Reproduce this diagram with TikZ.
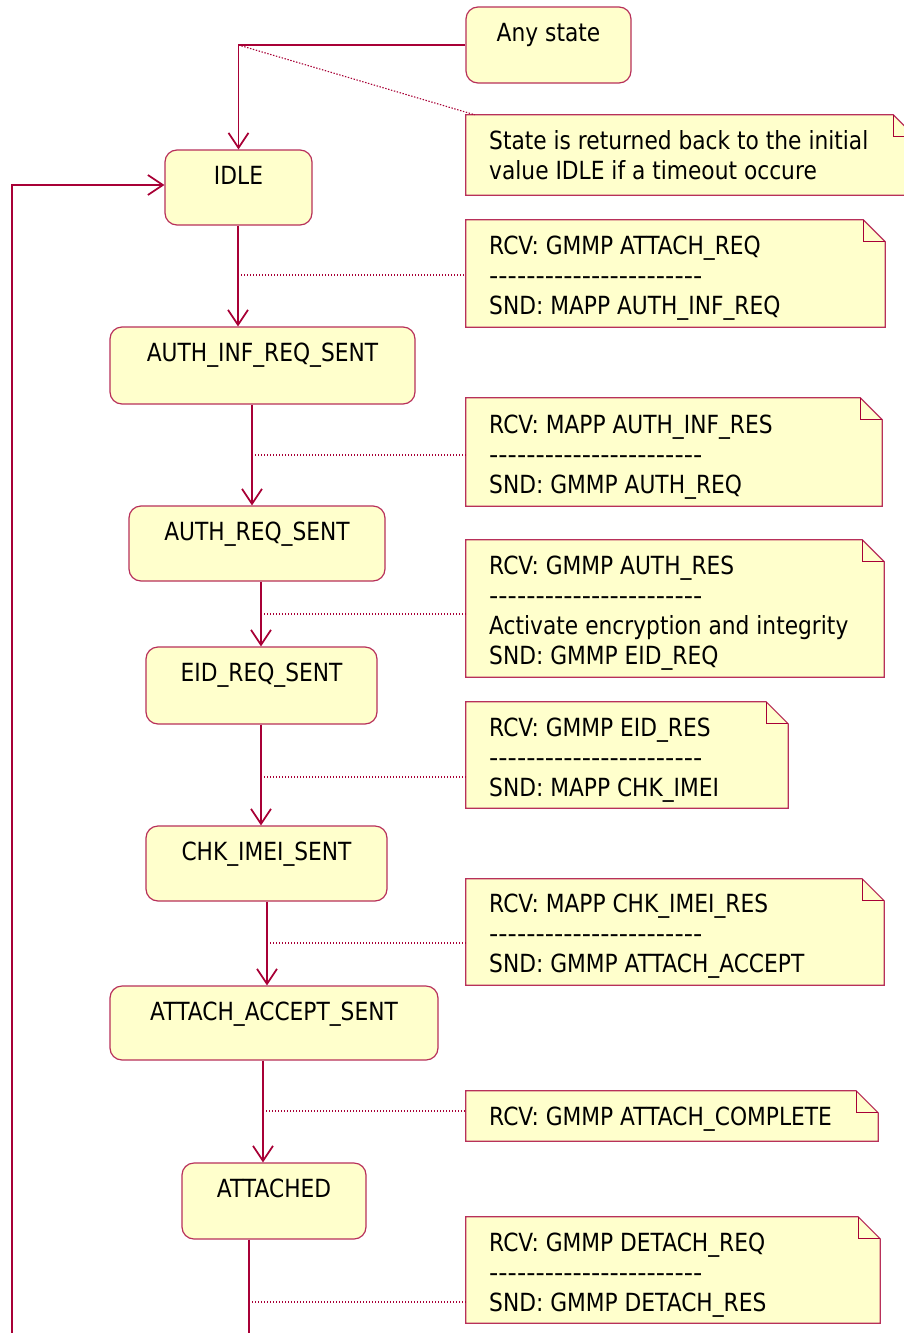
\documentclass[tikz,border=0pt]{standalone}
\usepackage{fontspec}
\usepackage{graphicx}
\newfontfamily\umlfont{DejaVu Sans}[FakeStretch=0.87]
\usetikzlibrary{arrows.meta,calc}
\definecolor{umlline}{HTML}{A80036}
\definecolor{umlborder}{HTML}{B8305A}
\definecolor{umlfill}{HTML}{FFFFCC}

% a state: name, x1, y1, x2, y2, label
\newcommand\umlstate[6]{%
  \node[stbox, minimum width={#4-#2}, minimum height={#5-#3}] (#1) at ({(#2+#4)/2},{(#3+#5)/2}) {};
  \node[txt, anchor=base] (#1-t) at ({(#2+#4)/2},{#3+34}) {#6};}
% a note with folded corner: name, x1, y1, x2, y2
\newcommand\umlnote[5]{%
  \node[inner sep=0pt, minimum width={#4-#2}, minimum height={#5-#3}] (#1) at ({(#2+#4)/2},{(#3+#5)/2}) {};
  \draw[notebox] (#1.north west) -- ([xshift=-22pt]#1.north east) -- ([yshift=-22pt]#1.north east)
      -- (#1.south east) -- (#1.south west) -- cycle;
  \draw[notefold] ([xshift=-22pt]#1.north east) |- ([yshift=-22pt]#1.north east);}
% one text line of a note: name, x, baseline y, text
\newcommand\nline[4]{\node[txt, anchor=base west] (#1) at (#2,#3) {#4};}
\newcommand\sepline{\scalebox{1.18}[1]{-----------------------}}

\begin{document}
\begin{tikzpicture}[x=1pt, y=-1pt,
  txt/.style={inner sep=0pt, font=\umlfont\fontsize{25}{30}\selectfont, text=black},
  stbox/.style={draw=umlborder, fill=umlfill, rounded corners=12pt, line width=1.2pt, inner sep=0pt},
  notebox/.style={draw=umlborder, fill=umlfill, line width=1.2pt},
  notefold/.style={draw=umlline, line width=1.1pt},
  tr/.style={draw=umlline, line width=1.7pt, line join=miter,
    -{Straight Barb[length=15pt, width=20pt, line width=1.7pt]}},
  dotline/.style={draw=umlline, line width=1.1pt, dash pattern=on 1.4pt off 1.6pt}]

\path[use as bounding box, fill=white] (0,0) rectangle (904,1333);

% states
\umlstate{any}{466}{7}{631}{83}{Any state}
\umlstate{idle}{165}{150}{312}{225}{IDLE}
\umlstate{airs}{110}{327}{415}{404}{AUTH\_INF\_REQ\_SENT}
\umlstate{ars}{129}{506}{385}{581}{AUTH\_REQ\_SENT}
\umlstate{eid}{146}{647}{377}{724}{EID\_REQ\_SENT}
\umlstate{chk}{146}{826}{387}{901}{CHK\_IMEI\_SENT}
\umlstate{aas}{110}{986}{438}{1060}{ATTACH\_ACCEPT\_SENT}
\umlstate{att}{182}{1163}{366}{1239}{ATTACHED}

% notes
\umlnote{n1}{466}{115}{915}{195}
\nline{n1a}{489}{149}{State is returned back to the initial}
\nline{n1b}{489}{179}{value IDLE if a timeout occure}

\umlnote{n2}{466}{220}{885}{327}
\nline{n2a}{489}{254}{RCV: GMMP ATTACH\_REQ}
\nline{n2b}{489}{284}{\sepline}
\nline{n2c}{489}{314}{SND: MAPP AUTH\_INF\_REQ}

\umlnote{n3}{466}{398}{882}{506}
\nline{n3a}{489}{433}{RCV: MAPP AUTH\_INF\_RES}
\nline{n3b}{489}{463}{\sepline}
\nline{n3c}{489}{493}{SND: GMMP AUTH\_REQ}

\umlnote{n4}{466}{540}{884}{677}
\nline{n4a}{489}{574}{RCV: GMMP AUTH\_RES}
\nline{n4b}{489}{604}{\sepline}
\nline{n4c}{489}{634}{Activate encryption and integrity}
\nline{n4d}{489}{664}{SND: GMMP EID\_REQ}

\umlnote{n5}{466}{702}{788}{808}
\nline{n5a}{489}{736}{RCV: GMMP EID\_RES}
\nline{n5b}{489}{766}{\sepline}
\nline{n5c}{489}{796}{SND: MAPP CHK\_IMEI}

\umlnote{n6}{466}{879}{884}{985}
\nline{n6a}{489}{912}{RCV: MAPP CHK\_IMEI\_RES}
\nline{n6b}{489}{942}{\sepline}
\nline{n6c}{489}{972}{SND: GMMP ATTACH\_ACCEPT}

\umlnote{n7}{466}{1091}{878}{1141}
\nline{n7a}{489}{1125}{RCV: GMMP ATTACH\_COMPLETE}

\umlnote{n8}{466}{1217}{880}{1323}
\nline{n8a}{489}{1251}{RCV: GMMP DETACH\_REQ}
\nline{n8b}{489}{1281}{\sepline}
\nline{n8c}{489}{1311}{SND: GMMP DETACH\_RES}

% lanes of the transitions
\coordinate (xa) at (238,0);
\coordinate (xb) at (252,0);
\coordinate (xc) at (261,0);
\coordinate (xd) at (261,0);
\coordinate (xe) at (267,0);
\coordinate (xf) at (263,0);
\coordinate (xg) at (249,0);

% transitions
\draw[tr] (any.west) -| (idle.north);
\draw[tr] (idle.south -| xa) -- (airs.north -| xa);
\draw[tr] (airs.south -| xb) -- (ars.north -| xb);
\draw[tr] (ars.south -| xc) -- (eid.north -| xc);
\draw[tr] (eid.south -| xd) -- (chk.north -| xd);
\draw[tr] (chk.south -| xe) -- (aas.north -| xe);
\draw[tr] (aas.south -| xf) -- (att.north -| xf);
\coordinate (lb) at (249,1350);
\coordinate (ll) at (12,1350);
\coordinate (lt) at (12,185);
\draw[tr] (att.south -| xg) -- (lb) -- (ll) -- (lt) -- (lt -| idle.west);

% note anchors on the transitions
\draw[dotline] (any.west -| idle.north) -- ([xshift=9pt]n1.north west);
\coordinate (da) at (238,275);
\coordinate (db) at (252,455);
\coordinate (dc) at (261,614);
\coordinate (dd) at (261,777);
\coordinate (de) at (267,943);
\coordinate (df) at (263,1111);
\coordinate (dg) at (249,1302);
\draw[dotline] (da) -- (da -| n2.west);
\draw[dotline] (db) -- (db -| n3.west);
\draw[dotline] (dc) -- (dc -| n4.west);
\draw[dotline] (dd) -- (dd -| n5.west);
\draw[dotline] (de) -- (de -| n6.west);
\draw[dotline] (df) -- (df -| n7.west);
\draw[dotline] (dg) -- (dg -| n8.west);
\end{tikzpicture}
\end{document}
